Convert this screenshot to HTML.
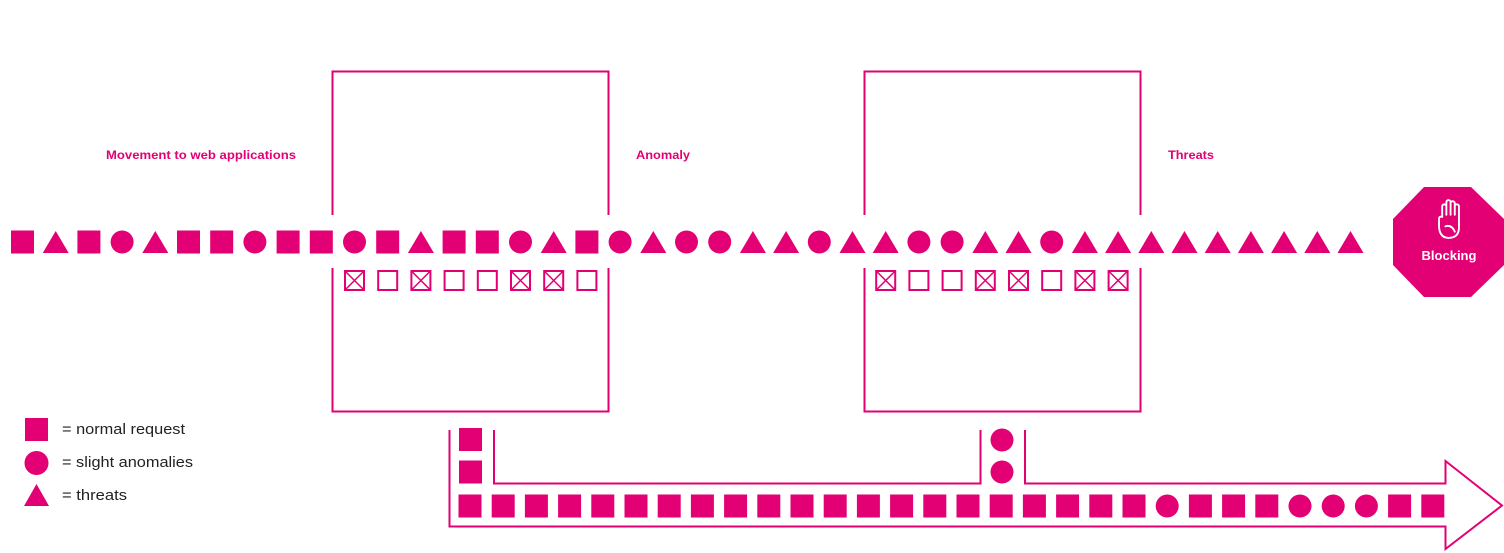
<!DOCTYPE html>
<html><head><meta charset="utf-8"><style>
html,body{margin:0;padding:0;background:#fff;}
svg{display:block;}
</style></head><body>
<svg width="1504" height="553" viewBox="0 0 1504 553" xmlns="http://www.w3.org/2000/svg">
<defs>
<rect id="s" x="-11.5" y="-11.5" width="23" height="23" fill="#e20074"/>
<circle id="c" r="11.5" fill="#e20074"/>
<polygon id="t" points="-13,11 13,11 0,-11" fill="#e20074"/>
<g id="bx"><rect x="-9.5" y="-9.5" width="19" height="19" fill="none" stroke="#e20074" stroke-width="2"/><path d="M-9.5 -9.5L9.5 9.5M9.5 -9.5L-9.5 9.5" stroke="#e20074" stroke-width="1.5"/></g>
<rect id="bo" x="-9.5" y="-9.5" width="19" height="19" fill="none" stroke="#e20074" stroke-width="2"/>
</defs>
<g font-family="Liberation Sans, sans-serif" font-weight="bold" font-size="12" fill="#e20074">
<text x="106" y="159" textLength="190" lengthAdjust="spacingAndGlyphs">Movement  to web applications</text>
<text x="636" y="159" textLength="54" lengthAdjust="spacingAndGlyphs">Anomaly</text>
<text x="1168" y="159" textLength="46" lengthAdjust="spacingAndGlyphs">Threats</text>
</g>
<g fill="none" stroke="#e20074" stroke-width="2">
<path d="M332.5 215V71.5H608.5V215M332.5 268V411.5H608.5V268"/>
<path d="M864.5 215V71.5H1140.5V215M864.5 268V411.5H1140.5V268"/>
<path d="M449.5 430V526.5H1445.5V549L1502 505.5L1445.5 461V483.5H1025V430"/>
<path d="M494 430V483.5H980.5V430"/>
</g>
<g transform="translate(0,242)">
<use href="#s" x="22.5"/><use href="#t" x="55.7"/><use href="#s" x="88.9"/><use href="#c" x="122.1"/><use href="#t" x="155.3"/><use href="#s" x="188.5"/><use href="#s" x="221.7"/><use href="#c" x="254.9"/><use href="#s" x="288.1"/><use href="#s" x="321.3"/><use href="#c" x="354.5"/><use href="#s" x="387.7"/><use href="#t" x="420.9"/><use href="#s" x="454.1"/><use href="#s" x="487.3"/><use href="#c" x="520.5"/><use href="#t" x="553.7"/><use href="#s" x="586.9"/><use href="#c" x="620.1"/><use href="#t" x="653.3"/><use href="#c" x="686.5"/><use href="#c" x="719.7"/><use href="#t" x="752.9"/><use href="#t" x="786.1"/><use href="#c" x="819.3"/><use href="#t" x="852.5"/><use href="#t" x="885.7"/><use href="#c" x="918.9"/><use href="#c" x="952.1"/><use href="#t" x="985.3"/><use href="#t" x="1018.5"/><use href="#c" x="1051.7"/><use href="#t" x="1084.9"/><use href="#t" x="1118.1"/><use href="#t" x="1151.3"/><use href="#t" x="1184.5"/><use href="#t" x="1217.7"/><use href="#t" x="1250.9"/><use href="#t" x="1284.1"/><use href="#t" x="1317.3"/><use href="#t" x="1350.5"/>
</g>
<g transform="translate(0,280.5)">
<use href="#bx" x="354.5"/><use href="#bo" x="387.7"/><use href="#bx" x="420.9"/><use href="#bo" x="454.1"/><use href="#bo" x="487.3"/><use href="#bx" x="520.5"/><use href="#bx" x="553.7"/><use href="#bo" x="586.9"/>
<use href="#bx" x="885.7"/><use href="#bo" x="918.9"/><use href="#bo" x="952.1"/><use href="#bx" x="985.3"/><use href="#bx" x="1018.5"/><use href="#bo" x="1051.7"/><use href="#bx" x="1084.9"/><use href="#bx" x="1118.1"/>
</g>
<g transform="translate(0,506)">
<use href="#s" x="470"/><use href="#s" x="503.2"/><use href="#s" x="536.4"/><use href="#s" x="569.6"/><use href="#s" x="602.8"/><use href="#s" x="636"/><use href="#s" x="669.2"/><use href="#s" x="702.4"/><use href="#s" x="735.6"/><use href="#s" x="768.8"/><use href="#s" x="802"/><use href="#s" x="835.2"/><use href="#s" x="868.4"/><use href="#s" x="901.6"/><use href="#s" x="934.8"/><use href="#s" x="968"/><use href="#s" x="1001.2"/><use href="#s" x="1034.4"/><use href="#s" x="1067.6"/><use href="#s" x="1100.8"/><use href="#s" x="1134"/><use href="#c" x="1167.2"/><use href="#s" x="1200.4"/><use href="#s" x="1233.6"/><use href="#s" x="1266.8"/><use href="#c" x="1300"/><use href="#c" x="1333.2"/><use href="#c" x="1366.4"/><use href="#s" x="1399.6"/><use href="#s" x="1432.8"/>
</g>
<use href="#s" x="470.5" y="439.5"/><use href="#s" x="470.5" y="472"/>
<use href="#c" x="1002" y="440"/><use href="#c" x="1002" y="472"/>
<polygon points="1424,187 1471,187 1504,219 1504,265 1471,297 1424,297 1393,265 1393,219" fill="#e20074"/>
<g transform="translate(1449,219) scale(1.05) translate(-1444.5,-218)" fill="none" stroke="#fff" stroke-width="1.8" stroke-linecap="round" stroke-linejoin="round">
<path d="M1438 216V206a2 2 0 0 1 4 0V214M1442 214V202a2 2 0 0 1 4 0V214M1446 214V203a2 2 0 0 1 4 0V214M1450 214V206a2 2 0 0 1 4 0V226q0 10 -10 10q-8 0 -9 -10V218q0-3 3-2"/>
<path d="M1441 225q6 -2 9 5"/>
</g>
<text x="1449" y="260" text-anchor="middle" font-family="Liberation Sans, sans-serif" font-weight="bold" font-size="13" fill="#fff">Blocking</text>
<rect x="25" y="418" width="23" height="23" fill="#e20074"/>
<circle cx="36.5" cy="463" r="12" fill="#e20074"/>
<polygon points="24,506 49,506 36.5,484" fill="#e20074"/>
<g font-family="Liberation Sans, sans-serif" font-size="15" fill="#222">
<text x="62" y="434" textLength="123" lengthAdjust="spacingAndGlyphs">= normal request</text>
<text x="62" y="467" textLength="131" lengthAdjust="spacingAndGlyphs">= slight anomalies</text>
<text x="62" y="500" textLength="65" lengthAdjust="spacingAndGlyphs">= threats</text>
</g>
</svg>
</body></html>
